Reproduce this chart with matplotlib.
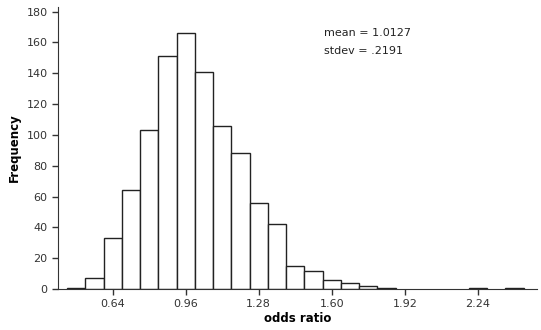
import numpy as np
import matplotlib.pyplot as plt

bin_centers = [0.48, 0.56, 0.64, 0.72, 0.80, 0.88, 0.96, 1.04, 1.12, 1.20,
               1.28, 1.36, 1.44, 1.52, 1.60, 1.68, 1.76, 1.84, 2.24, 2.40]
counts = [1, 7, 33, 64, 103, 151, 166, 141, 106, 88,
          56, 42, 15, 12, 6, 4, 2, 1, 1, 1]
bin_width = 0.08
xticks = [0.64, 0.96, 1.28, 1.60, 1.92, 2.24]
xtick_labels = ["0.64", "0.96", "1.28", "1.60", "1.92", "2.24"]
yticks = [0, 20, 40, 60, 80, 100, 120, 140, 160, 180]

plt.rcParams["font.family"] = "DejaVu Sans"

fig = plt.figure(figsize=(5.41, 3.30), dpi=100)
ax = fig.add_axes([0.107, 0.124, 0.886, 0.855])

ax.bar(bin_centers, counts, width=bin_width, color="white",
       edgecolor="#222222", linewidth=1.0)

ax.set_xlim(0.40, 2.50)
ax.set_ylim(0, 183)
ax.set_xticks(xticks)
ax.set_xticklabels(xtick_labels)
ax.set_yticks(yticks)
ax.tick_params(labelsize=8, colors="#333333", length=4, width=1)
for s in ["top", "right"]:
    ax.spines[s].set_visible(False)
for s in ["left", "bottom"]:
    ax.spines[s].set_color("#333333")

ax.set_xlabel("odds ratio", fontsize=8.5, fontweight="bold", labelpad=2)
ax.set_ylabel("Frequency", fontsize=8.5, fontweight="bold", labelpad=4)

ax.text(1.565, 160, "mean = 1.0127\nstdev = .2191", fontsize=8,
        color="#222222", va="center", linespacing=2.0)

fig.savefig("out.png", dpi=100)
